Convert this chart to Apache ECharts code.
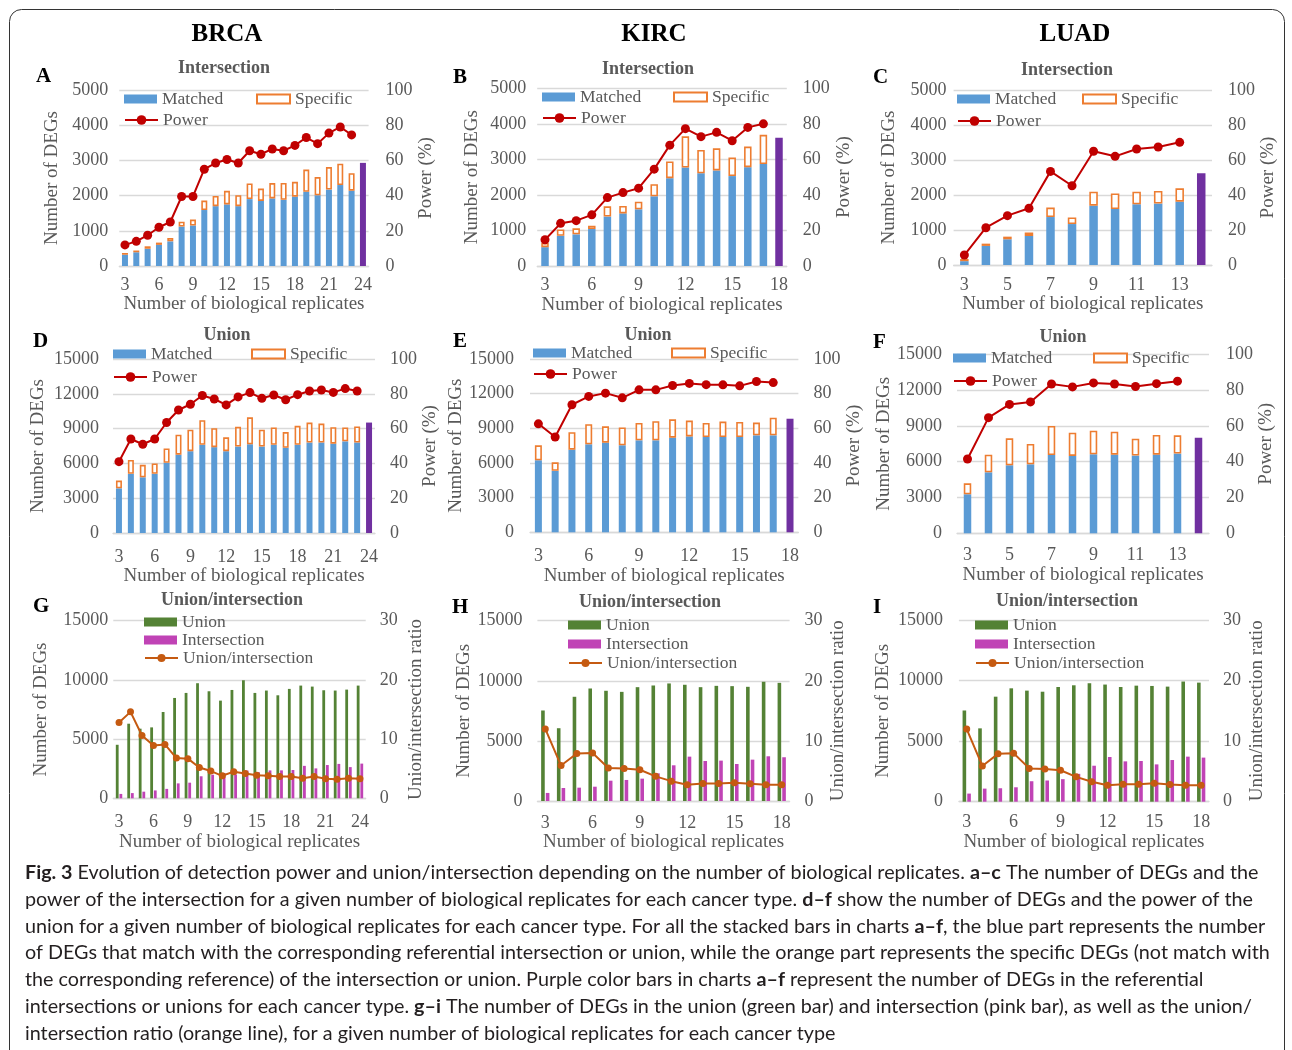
<!DOCTYPE html>
<html>
<head>
<meta charset="utf-8">
<script src="https://cdn.jsdelivr.net/npm/echarts/dist/echarts.min.js"></script>
<style>html,body{margin:0;padding:0;background:#fff}#c{width:1292px;height:1050px}</style>
</head>
<body>
<div id="c"></div>
<script>
// ---------------- DATA ----------------
const repsBRCA = ['3','4','5','6','7','8','9','10','11','12','13','14','15','16','17','18','19','20','21','22','23','24'];
const repsKIRC = ['3','4','5','6','7','8','9','10','11','12','13','14','15','16','17','18'];
const repsLUAD = ['3','4','5','6','7','8','9','10','11','12','13','14'];

// A: BRCA intersection (3..23), reference at 24
const brcaIntMatched  = [320, 390, 490, 600, 700, 1120, 1150, 1590, 1700, 1750, 1700, 1900, 1850, 1920, 1880, 1970, 2110, 2010, 2170, 2300, 2140];
const brcaIntSpecific = [50, 50, 70, 65, 95, 140, 170, 270, 290, 385, 310, 445, 350, 435, 480, 420, 630, 515, 640, 605, 495];
const brcaIntRef = 2930;
const brcaIntPower = [12, 14, 17.5, 22, 25, 39.5, 39.5, 55, 58.5, 60.5, 58.5, 65.5, 63.5, 66.5, 65.5, 68.5, 73, 69.5, 75.5, 79, 74.5];

// B: KIRC intersection (3..17), reference at 18
const kircIntMatched  = [530, 850, 890, 1040, 1390, 1480, 1595, 1960, 2470, 2770, 2610, 2690, 2530, 2780, 2870];
const kircIntSpecific = [120, 180, 170, 95, 290, 210, 215, 340, 470, 880, 655, 620, 520, 580, 820];
const kircIntRef = 3610;
const kircIntPower = [14.8, 24, 25.5, 28.8, 38.5, 41.3, 43.8, 54.5, 68, 77.3, 72.8, 75.2, 70.5, 78, 80];

// C: LUAD intersection (3..13), reference at 14
const luadIntMatched  = [110, 545, 735, 830, 1370, 1170, 1695, 1600, 1735, 1755, 1810];
const luadIntSpecific = [60, 65, 75, 95, 270, 190, 400, 445, 360, 360, 380];
const luadIntRef = 2620;
const luadIntPower = [5.7, 21.3, 28.2, 32.4, 53.5, 45.3, 65, 62.1, 66.3, 67.4, 70.1];

// D: BRCA union (3..23), reference at 24
const brcaUniMatched  = [3850, 5100, 4800, 5100, 6050, 6750, 7050, 7600, 7400, 7050, 7450, 7650, 7450, 7600, 7350, 7600, 7800, 7800, 7700, 7900, 7800];
const brcaUniSpecific = [670, 1200, 1080, 890, 1240, 1725, 1850, 2120, 1640, 1200, 1700, 2320, 1450, 1500, 1350, 1640, 1720, 1635, 1425, 1200, 1380];
const brcaUniRef = 9520;
const brcaUniPower = [41, 54, 51, 54, 63.5, 70.7, 74, 79, 77, 73.6, 78.2, 80.7, 77.4, 79.3, 76.6, 79.5, 81.6, 82.2, 80.8, 83, 81.6];

// E: KIRC union (3..17), reference at 18
const kircUniMatched  = [6235, 5320, 7155, 7615, 7760, 7530, 7960, 7960, 8190, 8300, 8250, 8250, 8250, 8390, 8390];
const kircUniSpecific = [1295, 735, 1515, 1745, 1410, 1550, 1510, 1650, 1590, 1370, 1220, 1330, 1305, 1110, 1530];
const kircUniRef = 9830;
const kircUniPower = [62.6, 55, 73.6, 78.4, 80.3, 77.6, 82.2, 82.2, 84.7, 85.9, 85.2, 85.1, 84.5, 87, 86.4];

// F: LUAD union (3..13), reference at 14
const luadUniMatched  = [3270, 5110, 5700, 5780, 6560, 6480, 6620, 6590, 6510, 6590, 6680];
const luadUniSpecific = [920, 1480, 2260, 1710, 2430, 1955, 1980, 1930, 1420, 1650, 1530];
const luadUniRef = 8000;
const luadUniPower = [41.5, 64.6, 72, 73.4, 83.4, 81.8, 84, 83.4, 82, 83.6, 85];

// G: BRCA union / intersection (3..24)
const brcaUnion = [4520, 6300, 5880, 5990, 7290, 8475, 8900, 9720, 9040, 8250, 9150, 9970, 8900, 9100, 8700, 9240, 9520, 9435, 9125, 9100, 9180, 9520];
const brcaInter = [370, 440, 560, 665, 795, 1260, 1320, 1860, 1990, 2135, 2010, 2345, 2200, 2355, 2360, 2390, 2740, 2525, 2810, 2905, 2635, 2930];
const brcaRatio = [12.8, 14.6, 10.6, 8.9, 9.1, 6.8, 6.7, 5.2, 4.6, 3.8, 4.5, 4.2, 3.9, 3.8, 3.7, 3.7, 3.4, 3.7, 3.3, 3.2, 3.4, 3.3];

// H (and I, which shows the same values in the source figure): union / intersection (3..18)
const kircUnion = [7530, 6055, 8670, 9360, 9170, 9080, 9470, 9610, 9780, 9670, 9470, 9580, 9555, 9500, 9920, 9830];
const kircInter = [670, 1080, 1110, 1190, 1690, 1750, 1860, 2300, 2970, 3690, 3330, 3360, 3080, 3440, 3720, 3640];
const kircRatio = [12.0, 5.9, 7.9, 8.0, 5.5, 5.4, 5.2, 4.1, 3.3, 2.7, 2.9, 2.9, 3.05, 2.85, 2.7, 2.7];

// tick labels
const degTicksSmall = {max: 5000, interval: 1000};
const degTicksLarge = {max: 15000, interval: 3000};
const degTicksUI = {max: 15000, interval: 5000};
const powerTicks = {max: 100, interval: 20};
const ratioTicks = {max: 30, interval: 10};

// ---------------- STYLE / LAYOUT ----------------
const SERIF = '"Liberation Serif","Times New Roman",serif';
const SANS = 'Lato, "Open Sans", sans-serif';
const GRAY = '#595959';
const C_BLUE = '#5B9BD5', C_ORANGE = '#ED7D31', C_PURPLE = '#7030A0', C_RED = '#C00000';
const C_GREEN = '#548235', C_PINK = '#C043B5', C_RATIO = '#C55A11';

const panels = [
  {kind:'stack', letter:'A', title:'Intersection', cats:repsBRCA, m:brcaIntMatched, s:brcaIntSpecific, ref:brcaIntRef, line:brcaIntPower, yT:degTicksSmall,
   L:{left:119.3,right:368.6,top:90,bottom:266,barW:6,li:2,xLM:10,xNG:29,yLM:11,y2LM:17,yNG:58,y2NG:46,t:[224,68],lt:[36,77],leg:[[124,99],[256,99],[124,120]]}},
  {kind:'stack', letter:'B', title:'Intersection', cats:repsKIRC, m:kircIntMatched, s:kircIntSpecific, ref:kircIntRef, line:kircIntPower, yT:degTicksSmall,
   L:{left:537.2,right:786.8,top:88.3,bottom:266,barW:7.5,li:2,xLM:10,xNG:30,yLM:11,y2LM:16,yNG:56,y2NG:48,t:[648,69],lt:[453,78],leg:[[542,97],[673,97],[542,118]]}},
  {kind:'stack', letter:'C', title:'Intersection', cats:repsLUAD, m:luadIntMatched, s:luadIntSpecific, ref:luadIntRef, line:luadIntPower, yT:degTicksSmall,
   L:{left:953.6,right:1212,top:90,bottom:265,barW:8.5,li:1,xLM:11,xNG:30,yLM:7,y2LM:16,yNG:55,y2NG:45,t:[1067,70],lt:[873,78],leg:[[957,99],[1082,99],[957,121]]}},
  {kind:'stack', letter:'D', title:'Union', cats:repsBRCA, m:brcaUniMatched, s:brcaUniSpecific, ref:brcaUniRef, line:brcaUniPower, yT:degTicksLarge,
   L:{left:113,right:375,top:359,bottom:533,barW:6,li:2,xLM:15,xNG:31,yLM:14,y2LM:15,yNG:65,y2NG:40,t:[227,335],lt:[33,342],leg:[[113,354],[251,354],[113,377]]}},
  {kind:'stack', letter:'E', title:'Union', cats:repsKIRC, m:kircUniMatched, s:kircUniSpecific, ref:kircUniRef, line:kircUniPower, yT:degTicksLarge,
   L:{left:530,right:798.4,top:359,bottom:532.3,barW:7,li:2,xLM:15,xNG:32,yLM:16,y2LM:15,yNG:64,y2NG:38,t:[648,335],lt:[453,342],leg:[[533,353],[671,353],[533,374]]}},
  {kind:'stack', letter:'F', title:'Union', cats:repsLUAD, m:luadUniMatched, s:luadUniSpecific, ref:luadUniRef, line:luadUniPower, yT:degTicksLarge,
   L:{left:957,right:1209,top:354.3,bottom:533.3,barW:7.5,li:1,xLM:13,xNG:30,yLM:15,y2LM:17,yNG:62,y2NG:46,t:[1063,337],lt:[873,343],leg:[[953,358],[1093,358],[953,381]]}},
  {kind:'ui', letter:'G', title:'Union/intersection', cats:repsBRCA, u:brcaUnion, i:brcaInter, line:brcaRatio,
   L:{left:113.3,right:365.7,top:620.7,bottom:798.3,barW:2.8,li:2,xLM:15,xNG:28,yLM:5,y2LM:14,yNG:63,y2NG:41,t:[232,600],lt:[33,607],leg:[[144,622],[144,640],[144,658]]}},
  {kind:'ui', letter:'H', title:'Union/intersection', cats:repsKIRC, u:kircUnion, i:kircInter, line:kircRatio,
   L:{left:537.4,right:789.6,top:620.7,bottom:801,barW:3.6,li:2,xLM:13,xNG:25,yLM:15,y2LM:15,yNG:64,y2NG:39,t:[650,602],lt:[452,608],leg:[[568,625],[568,644],[568,663]]}},
  {kind:'ui', letter:'I', title:'Union/intersection', cats:repsKIRC, u:kircUnion, i:kircInter, line:kircRatio,
   L:{left:958.9,right:1209,top:620,bottom:801.7,barW:3.6,li:2,xLM:12,xNG:26,yLM:16,y2LM:14,yNG:66,y2NG:39,t:[1067,601],lt:[873,608],leg:[[975,625],[975,644],[975,663]]}}
];

const grid = [], xAxis = [], yAxis = [], series = [], legend = [], graphic = [];
const tickFont = {color: GRAY, fontFamily: SERIF, fontSize: 18};
const nameFont = {color: GRAY, fontFamily: SERIF, fontSize: 19};
const plain = v => String(v);

function addLegend(name, pos, opts) {
  const h = opts.itemHeight;
  legend.push(Object.assign({
    left: pos[0], top: pos[1] - 9, padding: 0, itemWidth: 33, itemHeight: h,
    textStyle: {color: GRAY, fontFamily: SERIF, fontSize: 17.5, lineHeight: 18},
    selectedMode: false,
    data: [opts.item ? Object.assign({name: name}, opts.item) : name]
  }, opts.icon ? {icon: opts.icon} : {}));
}

panels.forEach((p, k) => {
  const L = p.L;
  grid.push({left: L.left, top: L.top, width: L.right - L.left, height: L.bottom - L.top});
  xAxis.push({
    type: 'category', gridIndex: k, data: p.cats, boundaryGap: true,
    axisTick: {show: false},
    axisLine: {lineStyle: {color: '#D9D9D9', width: 1.3}},
    axisLabel: Object.assign({interval: L.li, margin: L.xLM}, tickFont),
    name: 'Number of biological replicates', nameLocation: 'middle', nameGap: L.xNG,
    nameTextStyle: nameFont
  });
  const yT = p.kind === 'stack' ? p.yT : degTicksUI;
  const y2T = p.kind === 'stack' ? powerTicks : ratioTicks;
  yAxis.push({
    type: 'value', gridIndex: k, position: 'left', min: 0, max: yT.max, interval: yT.interval,
    axisLine: {show: false}, axisTick: {show: false},
    splitLine: {lineStyle: {color: '#D9D9D9', width: 1.3}},
    axisLabel: Object.assign({margin: L.yLM, formatter: plain}, tickFont),
    name: 'Number of DEGs', nameLocation: 'middle', nameGap: L.yNG, nameRotate: 90,
    nameTextStyle: nameFont
  });
  yAxis.push({
    type: 'value', gridIndex: k, position: 'right', min: 0, max: y2T.max, interval: y2T.interval,
    axisLine: {show: false}, axisTick: {show: false}, splitLine: {show: false},
    axisLabel: Object.assign({margin: L.y2LM, formatter: plain}, tickFont),
    name: p.kind === 'stack' ? 'Power (%)' : 'Union/intersection ratio',
    nameLocation: 'middle', nameGap: L.y2NG, nameRotate: 90,
    nameTextStyle: nameFont
  });
  const yl = 2 * k, yr = 2 * k + 1;
  const last = p.cats.length - 1;
  if (p.kind === 'stack') {
    series.push({type: 'bar', name: 'Matched', xAxisIndex: k, yAxisIndex: yl, stack: 's' + k, barWidth: L.barW,
      itemStyle: {color: C_BLUE}, data: p.m.concat(['-'])});
    series.push({type: 'bar', name: 'Specific', xAxisIndex: k, yAxisIndex: yl, stack: 's' + k, barWidth: L.barW,
      itemStyle: {color: '#FFFFFF', borderColor: C_ORANGE, borderWidth: 1.6}, data: p.s.concat(['-'])});
    series.push({type: 'bar', name: 'Reference', xAxisIndex: k, yAxisIndex: yl, stack: 's' + k, barWidth: L.barW,
      itemStyle: {color: C_PURPLE}, data: p.cats.map((c, j) => j === last ? p.ref : '-')});
    series.push({type: 'line', name: 'Power', xAxisIndex: k, yAxisIndex: yr, symbol: 'circle', symbolSize: 9,
      showAllSymbol: true,
      lineStyle: {color: C_RED, width: 2}, itemStyle: {color: C_RED}, data: p.line.concat(['-']), z: 5});
    addLegend('Matched', L.leg[0], {itemHeight: 9, icon: 'rect'});
    addLegend('Specific', L.leg[1], {itemHeight: 9, icon: 'rect',
      item: {itemStyle: {color: '#FFFFFF', borderColor: C_ORANGE, borderWidth: 2}}});
    addLegend('Power', L.leg[2], {itemHeight: 12});
  } else {
    series.push({type: 'bar', name: 'Union', xAxisIndex: k, yAxisIndex: yl, barWidth: L.barW, barGap: '30%',
      itemStyle: {color: C_GREEN}, data: p.u});
    series.push({type: 'bar', name: 'Intersection', xAxisIndex: k, yAxisIndex: yl, barWidth: L.barW, barGap: '30%',
      itemStyle: {color: C_PINK}, data: p.i});
    series.push({type: 'line', name: 'Union/intersection', xAxisIndex: k, yAxisIndex: yr, symbol: 'circle', symbolSize: 7,
      showAllSymbol: true,
      lineStyle: {color: C_RATIO, width: 2}, itemStyle: {color: C_RATIO}, data: p.line, z: 5});
    addLegend('Union', L.leg[0], {itemHeight: 9, icon: 'rect'});
    addLegend('Intersection', L.leg[1], {itemHeight: 9, icon: 'rect'});
    addLegend('Union/intersection', L.leg[2], {itemHeight: 10});
  }
  graphic.push({type: 'text', x: L.t[0], y: L.t[1], z: 10,
    style: {text: p.title, fill: GRAY, font: 'bold 18px ' + SERIF, textAlign: 'center', textVerticalAlign: 'middle'}});
  graphic.push({type: 'text', x: L.lt[0], y: L.lt[1], z: 10,
    style: {text: p.letter, fill: '#000', font: 'bold 21px ' + SERIF, textAlign: 'left', textVerticalAlign: 'middle'}});
});

// column headers
const headers = [['BRCA', 227], ['KIRC', 654], ['LUAD', 1075]];
headers.forEach(h => graphic.push({type: 'text', x: h[1], y: 35, z: 10,
  style: {text: h[0], fill: '#000', font: 'bold 25px ' + SERIF, textAlign: 'center', textVerticalAlign: 'middle'}}));

// frame
graphic.push({type: 'rect', z: 0, shape: {x: 9.5, y: 9.5, width: 1275, height: 1100, r: 12},
  style: {fill: 'none', stroke: '#333', lineWidth: 1}});

// caption
const captionLines = [
  '{b|Fig. 3} Evolution of detection power and union/intersection depending on the number of biological replicates. {b|a\u2013c} The number of DEGs and the',
  'power of the intersection for a given number of biological replicates for each cancer type. {b|d\u2013f} show the number of DEGs and the power of the',
  'union for a given number of biological replicates for each cancer type. For all the stacked bars in charts {b|a\u2013f}, the blue part represents the number',
  'of DEGs that match with the corresponding referential intersection or union, while the orange part represents the specific DEGs (not match with',
  'the corresponding reference) of the intersection or union. Purple color bars in charts {b|a\u2013f} represent the number of DEGs in the referential',
  'intersections or unions for each cancer type. {b|g\u2013i} The number of DEGs in the union (green bar) and intersection (pink bar), as well as the union/',
  'intersection ratio (orange line), for a given number of biological replicates for each cancer type'
];
captionLines.forEach((t, j) => graphic.push({type: 'text', x: 25, y: 873 + j * 26.7, z: 10,
  style: {text: t, fill: '#231F20', fontFamily: SANS, fontSize: 19.75, textAlign: 'left', textVerticalAlign: 'middle',
    rich: {b: {fontFamily: SANS, fontSize: 19.75, fontWeight: 'bold', fill: '#231F20'}}}}));

const chart = echarts.init(document.getElementById('c'), null, {renderer: 'canvas'});
chart.setOption({
  animation: false,
  backgroundColor: '#ffffff',
  grid, xAxis, yAxis, series, legend, graphic
});
</script>
</body>
</html>
